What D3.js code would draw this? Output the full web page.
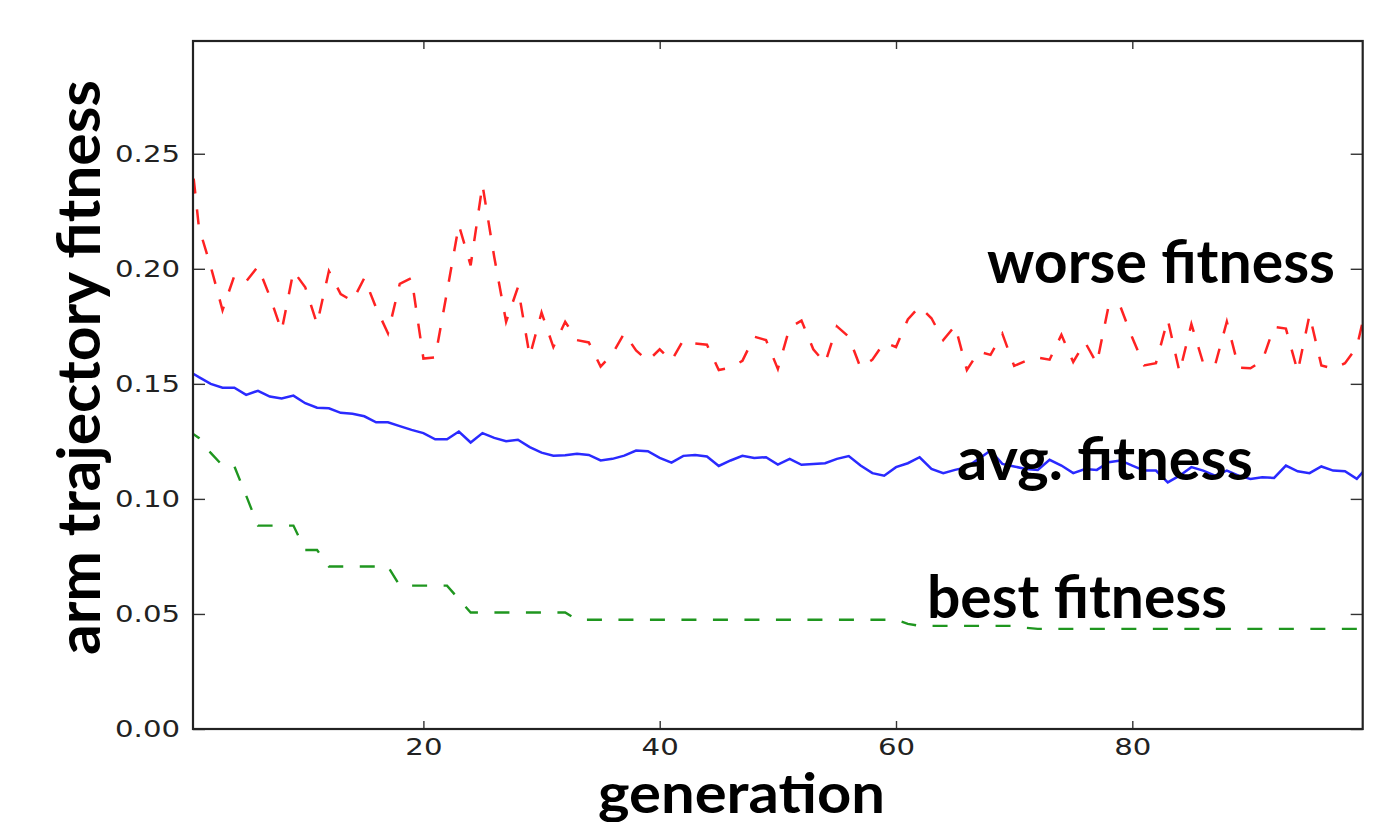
<!DOCTYPE html>
<html>
<head>
<meta charset="utf-8">
<script src="https://cdn.jsdelivr.net/npm/d3@7"></script>
<style>
  body { margin: 0; background: #fff; }
  svg { display: block; }
</style>
</head>
<body>
<svg id="chart" width="1376" height="822"></svg>
<script>
// generations 0..100 (first and last sit just outside the axis and get clipped)
const generations = d3.range(0, 101)

const worstFitness = [
  0.266, 0.218, 0.201, 0.182, 0.197, 0.1945, 0.201, 0.188, 0.173, 0.199,
  0.192, 0.176, 0.199, 0.189, 0.186, 0.196, 0.183, 0.172, 0.1935, 0.196,
  0.161, 0.1615, 0.190, 0.219, 0.2015, 0.2365, 0.205, 0.177, 0.192, 0.162,
  0.181, 0.166, 0.177, 0.169, 0.168, 0.1575, 0.163, 0.172, 0.1645, 0.160,
  0.165, 0.160, 0.169, 0.1675, 0.167, 0.156, 0.157, 0.160, 0.1705, 0.169,
  0.1565, 0.1745, 0.1775, 0.165, 0.159, 0.175, 0.1705, 0.157, 0.1605, 0.168,
  0.166, 0.178, 0.1836, 0.1785, 0.169, 0.1753, 0.156, 0.164, 0.1626, 0.1718,
  0.1578, 0.160, 0.1614, 0.1605, 0.1713, 0.1595, 0.1681, 0.1588, 0.184, 0.1835,
  0.170, 0.158, 0.159, 0.178, 0.155, 0.176, 0.159, 0.158, 0.177, 0.157,
  0.1568, 0.160, 0.1748, 0.174, 0.1553, 0.180, 0.158, 0.1566, 0.159, 0.166,
  0.188
]

const avgFitness = [
  0.156, 0.1529, 0.1500, 0.1483, 0.1483, 0.1452, 0.1470, 0.1445, 0.1436, 0.1449,
  0.1416, 0.1396, 0.1394, 0.1374, 0.1370, 0.1359, 0.1333, 0.1333, 0.1316, 0.1300,
  0.1286, 0.1259, 0.1259, 0.1293, 0.1245, 0.1286, 0.1265, 0.1251, 0.1257, 0.1225,
  0.1201, 0.1188, 0.1190, 0.1196, 0.1191, 0.1167, 0.1174, 0.1188, 0.1210, 0.1207,
  0.1178, 0.1158, 0.1187, 0.1191, 0.1184, 0.1143, 0.1167, 0.1187, 0.1178, 0.1181,
  0.1149, 0.1174, 0.1148, 0.1152, 0.1155, 0.1174, 0.1186, 0.1145, 0.1112, 0.1101,
  0.1138, 0.1155, 0.1181, 0.1130, 0.1112, 0.1126, 0.1138, 0.1174, 0.1210, 0.1152,
  0.1141, 0.1130, 0.1126, 0.1170, 0.1145, 0.1112, 0.1130, 0.1126, 0.1159, 0.1167,
  0.1145, 0.1123, 0.1123, 0.1072, 0.1101, 0.1138, 0.1123, 0.1101, 0.1123, 0.1101,
  0.1087, 0.1094, 0.1091, 0.1145, 0.1120, 0.1112, 0.1141, 0.1123, 0.1120, 0.1087,
  0.1145
]

const bestFitness = [
  0.130, 0.1265, 0.120, 0.1145, 0.1142, 0.1014, 0.0884, 0.0884, 0.0884, 0.0884,
  0.0778, 0.0778, 0.0706, 0.0706, 0.0706, 0.0706, 0.0706, 0.0706, 0.0623, 0.0623,
  0.0623, 0.0623, 0.0623, 0.0564, 0.0506, 0.0506, 0.0506, 0.0506, 0.0506, 0.0506,
  0.0506, 0.0506, 0.0506, 0.0475, 0.0475, 0.0475, 0.0475, 0.0475, 0.0475, 0.0475,
  0.0475, 0.0475, 0.0475, 0.0475, 0.0475, 0.0475, 0.0475, 0.0475, 0.0475, 0.0475,
  0.0475, 0.0475, 0.0475, 0.0475, 0.0475, 0.0475, 0.0475, 0.0475, 0.0475, 0.0475,
  0.0475, 0.0457, 0.0448, 0.0448, 0.0448, 0.0448, 0.0448, 0.0448, 0.0448, 0.0448,
  0.0448, 0.0440, 0.0435, 0.0435, 0.0435, 0.0435, 0.0435, 0.0435, 0.0435, 0.0435,
  0.0435, 0.0435, 0.0435, 0.0435, 0.0435, 0.0435, 0.0435, 0.0435, 0.0435, 0.0435,
  0.0435, 0.0435, 0.0435, 0.0435, 0.0435, 0.0435, 0.0435, 0.0435, 0.0435, 0.0435,
  0.0435
]

const yTicks = [0, 0.05, 0.10, 0.15, 0.20, 0.25]
const xTicks = [20, 40, 60, 80]

let svg = d3.select("#chart")

let plotLeft = 193, plotRight = 1362.7, plotTop = 41, plotBottom = 729

let x = d3.scaleLinear().domain([0.5, 99.5]).range([plotLeft, plotRight])
let y = d3.scaleLinear().domain([0, 0.299]).range([plotBottom, plotTop])

svg.append("defs").append("clipPath").attr("id", "plot")
  .append("rect")
  .attr("x", plotLeft).attr("y", plotTop)
  .attr("width", plotRight - plotLeft).attr("height", plotBottom - plotTop)

let plot = svg.append("g").attr("clip-path", "url(#plot)")

let line = d3.line()
  .x(function (d, i) { return x(generations[i]) })
  .y(function (d) { return y(d) })

// worst, avg, best
plot.append("path").datum(worstFitness)
  .attr("d", line)
  .attr("fill", "none")
  .attr("stroke", "#ff2222")
  .attr("stroke-width", 2.5)
  .attr("stroke-dasharray", "15,16")

plot.append("path").datum(avgFitness)
  .attr("d", line)
  .attr("fill", "none")
  .attr("stroke", "#2a2aff")
  .attr("stroke-width", 2.5)

plot.append("path").datum(bestFitness)
  .attr("d", line)
  .attr("fill", "none")
  .attr("stroke", "#1f961f")
  .attr("stroke-width", 2.4)
  .attr("stroke-dasharray", "15,16.5")

// axes, ticks pointing inward on all four sides
let stretch = 1.27

let yAxis = svg.append("g")
  .attr("transform", "translate(" + plotLeft + ",0)")
  .call(d3.axisLeft(y).tickValues(yTicks).tickSize(-12).tickSizeOuter(0)
    .tickFormat(d3.format(".2f")))
yAxis.selectAll("text")
  .attr("x", -13 / stretch)
  .attr("transform", "scale(" + stretch + ",1)")

let xAxis = svg.append("g")
  .attr("transform", "translate(0," + plotBottom + ")")
  .call(d3.axisBottom(x).tickValues(xTicks).tickSize(-8).tickSizeOuter(0).tickPadding(10))
xAxis.selectAll("text")
  .attr("transform", "scale(" + stretch + ",1)")

svg.append("g")
  .attr("transform", "translate(" + plotRight + ",0)")
  .call(d3.axisRight(y).tickValues(yTicks).tickSize(-12).tickSizeOuter(0).tickFormat(""))

svg.append("g")
  .attr("transform", "translate(0," + plotTop + ")")
  .call(d3.axisTop(x).tickValues(xTicks).tickSize(-8).tickSizeOuter(0).tickFormat(""))

svg.selectAll(".domain").remove()
svg.selectAll(".tick line").attr("stroke", "#333").attr("stroke-width", 1.4)
svg.selectAll(".tick text")
  .attr("fill", "#222")
  .style("font-family", "'DejaVu Sans', sans-serif")
  .style("font-size", "23px")

svg.append("rect")
  .attr("x", plotLeft).attr("y", plotTop)
  .attr("width", plotRight - plotLeft).attr("height", plotBottom - plotTop)
  .attr("fill", "none")
  .attr("stroke", "#222")
  .attr("stroke-width", 2.2)

// big bold labels
function label(txt, x0, base, width, size, rotate) {
  let t = svg.append("text")
    .text(txt)
    .attr("x", x0).attr("y", base)
    .attr("textLength", width)
    .attr("lengthAdjust", "spacingAndGlyphs")
    .style("font-family", "Lato, 'Open Sans', sans-serif")
    .style("font-weight", "bold")
    .style("font-size", size + "px")
    .attr("fill", "#000")
  if (rotate) t.attr("transform", "rotate(-90," + x0 + "," + base + ")")
  return t
}

label("worse fitness", 987, 283, 348, 60)
label("avg. fitness", 957, 480, 296, 60)
label("best fitness", 927, 618, 300, 60)
label("generation", 598, 813, 287, 56)
label("arm trajectory fitness", 100, 655, 575, 60, true)
</script>
</body>
</html>
